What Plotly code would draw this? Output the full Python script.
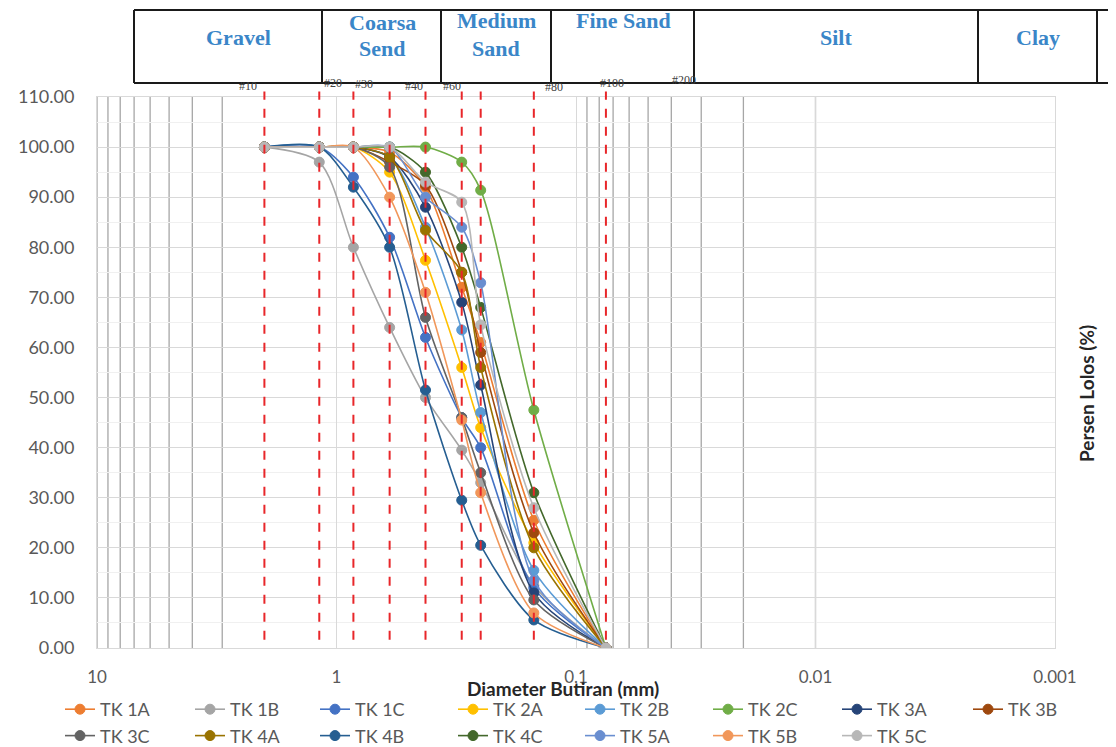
import math
import plotly.graph_objects as go

# ---------------- data ----------------
sieve_mm = [2.0, 1.18, 0.85, 0.6, 0.425, 0.3, 0.25, 0.15, 0.075]

series_names = ["TK 1A", "TK 1B", "TK 1C", "TK 2A", "TK 2B", "TK 2C", "TK 3A", "TK 3B",
                "TK 3C", "TK 4A", "TK 4B", "TK 4C", "TK 5A", "TK 5B", "TK 5C"]

tk_1a = [100, 100, 100, 99, 92, 72, 61, 25.5, 0]
tk_1b = [100, 97, 80, 64, 50, 39.5, 33, 12.5, 0]
tk_1c = [100, 100, 94, 82, 62, 46, 40, 12, 0]
tk_2a = [100, 100, 100, 95, 77.4, 56, 44, 21, 0]
tk_2b = [100, 100, 100, 98, 84, 63.5, 47, 15.5, 0]
tk_2c = [100, 100, 100, 100, 100, 97, 91.4, 47.5, 0]
tk_3a = [100, 100, 100, 98, 88, 69, 52.5, 11, 0]
tk_3b = [100, 100, 100, 97, 92.4, 75, 59, 23, 0]
tk_3c = [100, 100, 100, 96, 66, 46, 35, 9.6, 0]
tk_4a = [100, 100, 100, 98, 83.4, 75, 56, 20, 0]
tk_4b = [100, 100, 92, 80, 51.5, 29.5, 20.5, 5.6, 0]
tk_4c = [100, 100, 100, 100, 95, 80, 68, 31, 0]
tk_5a = [100, 100, 100, 100, 90, 84, 72.9, 13.5, 0]
tk_5b = [100, 100, 100, 90, 71, 45.5, 31, 7, 0]
tk_5c = [100, 100, 100, 100, 93, 89, 64.5, 28, 0]

series_values = [tk_1a, tk_1b, tk_1c, tk_2a, tk_2b, tk_2c, tk_3a, tk_3b,
                 tk_3c, tk_4a, tk_4b, tk_4c, tk_5a, tk_5b, tk_5c]

series_colors = ["#ED7D31", "#A5A5A5", "#4472C4", "#FFC000", "#5B9BD5", "#70AD47",
                 "#264478", "#9E480E", "#636363", "#997300", "#255E91", "#43682B",
                 "#698ED0", "#F1975A", "#B7B7B7"]

x_tick_vals = [10, 1, 0.1, 0.01, 0.001]
x_tick_text = ["10", "1", "0.1", "0.01", "0.001"]
y_tick_vals = list(range(0, 111, 10))

grid_lines_mm = [10, 9, 8, 7, 6, 5, 4, 3, 0.09, 0.08, 0.07, 0.06, 0.05, 0.04, 0.03, 0.02, 0.01]

zone_names = ["Gravel", "Coarsa", "Send", "Medium", "Sand", "Fine Sand", "Silt", "Clay"]
sieve_labels = ["#10", "#20", "#30", "#40", "#60", "#80", "#100", "#200"]

# ---------------- geometry helpers (reference pixel coords; page has 8px body margin) ----------------
OFF = 8
W, H = 1116 - OFF, 747 - OFF
PL, PR, PT, PB = 97, 1055, 97, 648   # plot area in reference pixels


def px(xp):
    return (xp - PL) / (PR - PL)


def py(yp):
    return (PB - yp) / (PB - PT)


N_COLS = 8
legend_text_x = [100, 230, 355, 493, 620, 748, 877, 1008]


def legend_id(i):
    c = i % N_COLS
    return "legend" if c == 0 else f"legend{c + 1}"


fig = go.Figure()

for i, (name, vals, col) in enumerate(zip(series_names, series_values, series_colors)):
    fig.add_trace(go.Scatter(
        x=sieve_mm, y=vals, name=name, mode="lines+markers",
        line=dict(color=col, width=1.6, shape="spline", smoothing=0.8),
        marker=dict(color=col, size=10, line=dict(color=col, width=1)),
        legend=legend_id(i),
    ))

shapes = []
# vertical gray grid lines
for d in grid_lines_mm:
    shapes.append(dict(type="line", xref="x", yref="paper", x0=d, x1=d,
                       y0=0, y1=1, line=dict(color="#A6A6A6", width=1.3), layer="below"))
# red dashed sieve lines
for d in sieve_mm:
    shapes.append(dict(type="line", xref="x", yref="paper", x0=d, x1=d,
                       y0=0.015, y1=1.01, line=dict(color="#E8262A", width=2, dash="dash"), layer="above"))

# header table
top_y, bot_y = py(10), py(83)
col_edges_px = [134, 322, 441, 551, 694, 978, 1097]
shapes.append(dict(type="line", xref="paper", yref="paper", x0=px(134), x1=px(1116), y0=top_y, y1=top_y,
                   line=dict(color="#1a1a1a", width=2)))
shapes.append(dict(type="line", xref="paper", yref="paper", x0=px(134), x1=px(1116), y0=bot_y, y1=bot_y,
                   line=dict(color="#1a1a1a", width=2)))
for e in col_edges_px:
    shapes.append(dict(type="line", xref="paper", yref="paper", x0=px(e), x1=px(e), y0=bot_y, y1=top_y,
                       line=dict(color="#1a1a1a", width=2)))

annotations = []
zone_pos = [(238, 37), (382, 22), (382, 48), (496, 21), (496, 48), (623, 21), (836, 37), (1038, 37)]
for txt, (xp, yp) in zip(zone_names, zone_pos):
    annotations.append(dict(text=txt, xref="paper", yref="paper", x=px(xp), y=py(yp),
                            showarrow=False, xanchor="center", yanchor="middle",
                            font=dict(family="Liberation Serif", size=22, color="#3A86C8", weight="bold")))

sieve_pos = [(248, 86), (333, 83), (364, 84), (414, 86), (452, 86), (554, 87), (612, 83), (684, 80)]
for txt, (xp, yp) in zip(sieve_labels, sieve_pos):
    annotations.append(dict(text=txt, xref="paper", yref="paper", x=px(xp), y=py(yp),
                            showarrow=False, xanchor="center", yanchor="middle",
                            font=dict(family="Liberation Serif", size=12, color="#404040")))

annotations.append(dict(text="<b>Diameter Butiran (mm)</b>", xref="paper", yref="paper",
                        x=px(563), y=py(688), showarrow=False, xanchor="center", yanchor="middle",
                        font=dict(family="Lato", size=19, color="#262626")))
annotations.append(dict(text="<b>Persen Lolos (%)</b>", xref="paper", yref="paper",
                        x=px(1086), y=py(394), showarrow=False, xanchor="center", yanchor="middle",
                        textangle=-90, font=dict(family="Lato", size=19, color="#262626")))

legends = {}
for c in range(N_COLS):
    key = "legend" if c == 0 else f"legend{c + 1}"
    legends[key] = dict(orientation="v", xref="container", yref="container",
                        x=(legend_text_x[c] - 40 - OFF) / W, y=1 - (691 - OFF) / H,
                        xanchor="left", yanchor="top", tracegroupgap=0,
                        font=dict(family="Lato", size=18, color="#595959"),
                        bgcolor="rgba(0,0,0,0)")

fig.update_layout(
    width=W, height=H,
    margin=dict(l=PL - OFF, r=W - (PR - OFF), t=PT - OFF, b=H - (PB - OFF), autoexpand=False),
    paper_bgcolor="white", plot_bgcolor="white",
    font=dict(family="Lato", color="#595959", size=16),
    shapes=shapes, annotations=annotations,
    showlegend=True,
    xaxis=dict(type="log", range=[1, -3], tickvals=x_tick_vals, ticktext=x_tick_text,
               showgrid=True, gridcolor="#D9D9D9", gridwidth=1,
               showline=True, linecolor="#D9D9D9", mirror=True, ticks="",
               ticklabelstandoff=14, tickfont=dict(size=17, color="#595959"), zeroline=False),
    yaxis=dict(range=[0, 110], tickvals=y_tick_vals, tickformat=".2f",
               showgrid=True, gridcolor="#D9D9D9", gridwidth=1,
               minor=dict(dtick=5, showgrid=True, gridcolor="#F0F0F0"),
               showline=True, linecolor="#D9D9D9", mirror=True, ticks="",
               ticklabelstandoff=18, tickfont=dict(size=18, color="#595959"), zeroline=False),
    **legends,
)

fig.write_html("out.html")
